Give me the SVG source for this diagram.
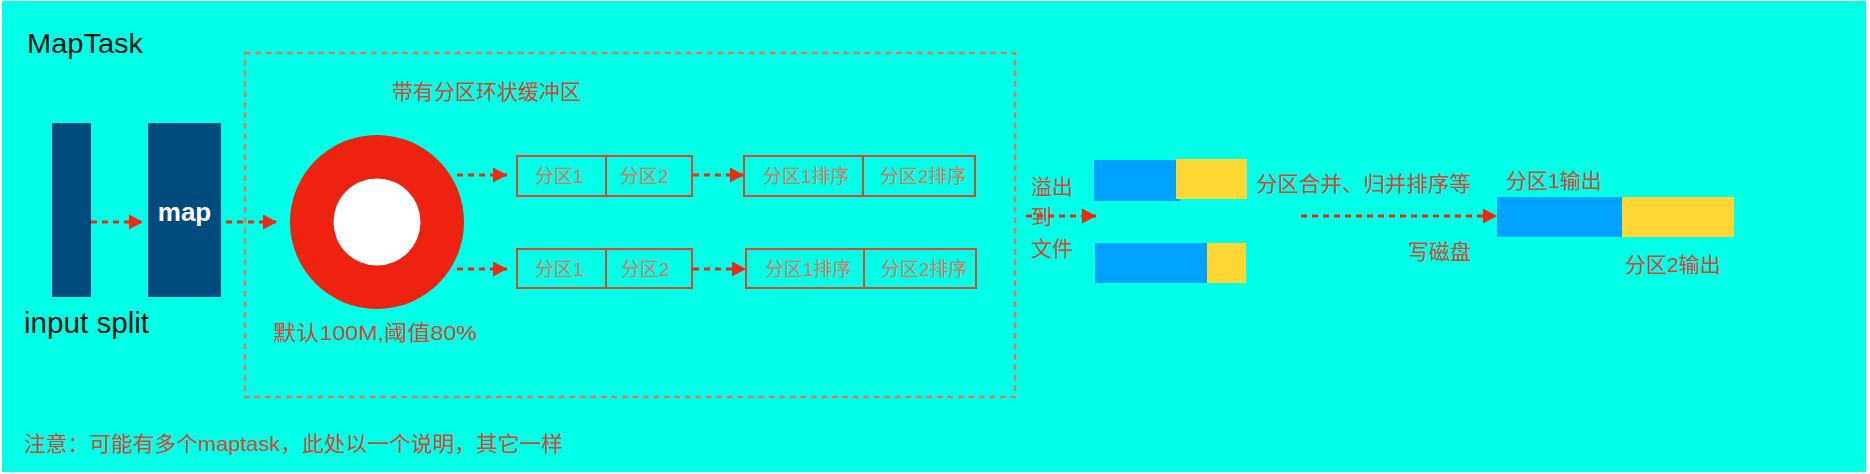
<svg xmlns="http://www.w3.org/2000/svg" width="1870" height="474" viewBox="0 0 1870 474">
<style>
.lat{font-family:"Liberation Sans","Noto Sans CJK SC",sans-serif;}
.red{font-family:"Liberation Sans","Noto Sans CJK SC",sans-serif;fill:#DA4433;font-size:21px;}
.bx{font-family:"Liberation Sans","Noto Sans CJK SC",sans-serif;fill:#DE7563;font-size:19px;}
.cell{fill:none;stroke:#D9482F;stroke-width:2;}
.arr{stroke:#EE2A14;stroke-width:3;stroke-dasharray:6 5;fill:none;}
.dark{fill:#004B7D;}
.blue{fill:#00A2FF;}
.yel{fill:#FFD735;}
</style>
<defs>
<marker id="ah" markerUnits="userSpaceOnUse" markerWidth="15" markerHeight="16" refX="14" refY="7.5" orient="auto">
<path d="M0,0 L14,7.5 L0,15 Z" fill="#EE2A14"/>
</marker>
</defs>
<rect x="0" y="0" width="1870" height="474" fill="#FFFFFF"/>
<rect x="2" y="1" width="1864" height="471" fill="#00FFE7"/>
<text class="lat" x="27" y="53" font-size="28" fill="#111111" textLength="116" lengthAdjust="spacingAndGlyphs">MapTask</text>
<rect id="buffer-frame" x="245" y="53" width="770" height="344" fill="none" stroke="#E8735E" stroke-width="2.5" stroke-dasharray="5.5 5"/>
<text class="red" x="392" y="99">带有分区环状缓冲区</text>
<g id="input-split">
<rect class="dark" x="52" y="123" width="39" height="174"/>
<text class="lat" x="24" y="333" font-size="29" fill="#111111" textLength="125" lengthAdjust="spacingAndGlyphs">input split</text>
</g>
<g id="map">
<rect class="dark" x="148" y="123" width="73" height="174"/>
<text class="lat" x="184.5" y="221" font-size="26" font-weight="bold" fill="#FFFFFF" text-anchor="middle">map</text>
</g>
<g id="ring-buffer">
<circle cx="377" cy="222" r="87" fill="#EE2211"/>
<circle cx="377" cy="222" r="43.5" fill="#FFFFFF"/>
<text class="red" x="273" y="340" font-size="22" textLength="204" lengthAdjust="spacingAndGlyphs">默认100M,阈值80%</text>
</g>
<g id="partitions-upper">
<rect class="cell" x="517" y="156" width="89" height="40"/>
<rect class="cell" x="606" y="156" width="86" height="40"/>
<text class="bx" x="535" y="183">分区1</text>
<text class="bx" x="620" y="183">分区2</text>
</g>
<g id="sorted-upper">
<rect class="cell" x="744" y="156" width="119" height="40"/>
<rect class="cell" x="863" y="156" width="112" height="40"/>
<text class="bx" x="763" y="183">分区1排序</text>
<text class="bx" x="880" y="183">分区2排序</text>
</g>
<g id="partitions-lower">
<rect class="cell" x="517" y="249" width="89" height="39"/>
<rect class="cell" x="606" y="249" width="86" height="39"/>
<text class="bx" x="535" y="276">分区1</text>
<text class="bx" x="621" y="276">分区2</text>
</g>
<g id="sorted-lower">
<rect class="cell" x="746" y="249" width="118" height="39"/>
<rect class="cell" x="864" y="249" width="112" height="39"/>
<text class="bx" x="765" y="276">分区1排序</text>
<text class="bx" x="881" y="276">分区2排序</text>
</g>
<g id="spill-label">
<text class="red" x="1031" y="194">溢出</text>
<text class="red" x="1031" y="224">到</text>
<text class="red" x="1031" y="256">文件</text>
</g>
<g id="spill-file-1">
<rect class="blue" x="1094" y="160" width="86" height="41"/>
<rect class="yel" x="1176" y="159" width="71" height="40"/>
</g>
<g id="spill-file-2">
<rect class="blue" x="1095" y="243" width="112" height="40"/>
<rect class="yel" x="1207" y="243" width="39" height="40"/>
</g>
<text class="red" x="1256" y="191" textLength="215" lengthAdjust="spacingAndGlyphs">分区合并、归并排序等</text>
<text class="red" x="1408" y="259">写磁盘</text>
<g id="output-file">
<rect class="blue" x="1497" y="197" width="125" height="40"/>
<rect class="yel" x="1622" y="197" width="112" height="40"/>
<text class="red" x="1506" y="188">分区1输出</text>
<text class="red" x="1625" y="272">分区2输出</text>
</g>
<g id="connectors">
<path class="arr" d="M91,222 H143" marker-end="url(#ah)"/>
<path class="arr" d="M226,222 H277" marker-end="url(#ah)"/>
<path class="arr" d="M457,175 H507" marker-end="url(#ah)"/>
<path class="arr" d="M457,269 H507" marker-end="url(#ah)"/>
<path class="arr" d="M693,175 H744" marker-end="url(#ah)"/>
<path class="arr" d="M693,269 H746" marker-end="url(#ah)"/>
<path class="arr" d="M1026,216 H1096" marker-end="url(#ah)"/>
<path class="arr" d="M1301,216 H1497" marker-end="url(#ah)"/>
</g>
<text class="red" x="24" y="451" font-size="22" textLength="539" lengthAdjust="spacingAndGlyphs">注意：可能有多个maptask，此处以一个说明，其它一样</text>
</svg>
